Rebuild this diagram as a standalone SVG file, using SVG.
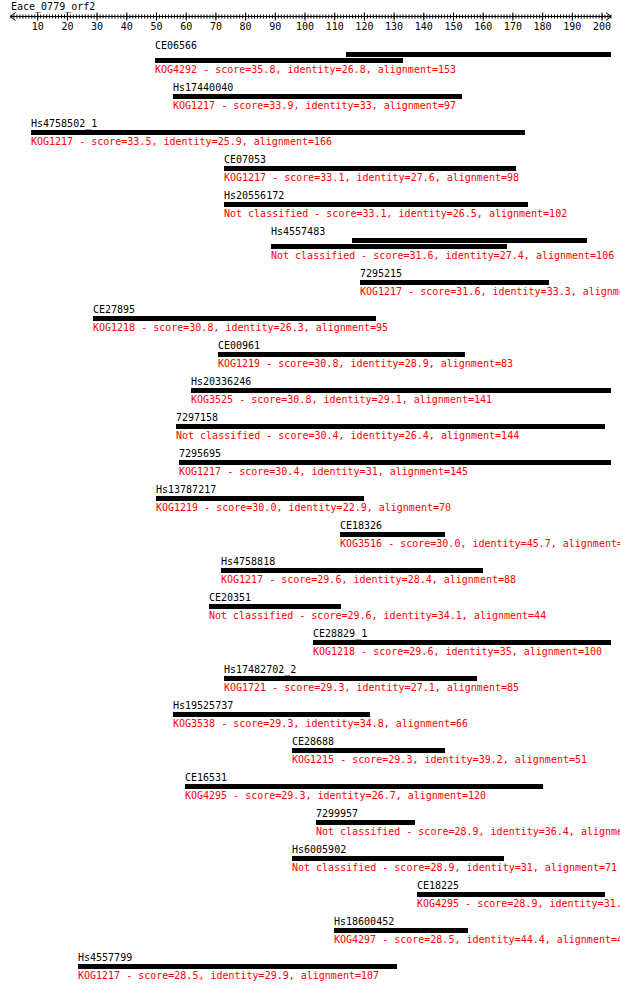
<svg xmlns="http://www.w3.org/2000/svg" width="620" height="989" viewBox="0 0 620 989">
<style>
text{font-family:"DejaVu Sans Mono","Liberation Mono",monospace;font-size:10px;fill:#000}
.r{fill:#ff0000}
.b{fill:#000}
.ax{stroke:#000;fill:none;stroke-width:1}
.tl{text-anchor:middle}
</style>
<rect width="620" height="989" fill="#fff"/>
<g id="axis">
<text x="11" y="10">Eace_0779_orf2</text>
<line class="ax" x1="10.5" y1="16.5" x2="611" y2="16.5"/>
<polyline class="ax" points="15.5,12.5 10.5,16.5 15.5,20.5"/>
<polyline class="ax" points="606,12.5 611,16.5 606,20.5"/>
<line x1="10.5" y1="16.5" x2="611.5" y2="16.5" stroke="#000" stroke-width="4" stroke-dasharray="1 1.97"/>
<line x1="37.2" y1="16.5" x2="603" y2="16.5" stroke="#000" stroke-width="8" stroke-dasharray="1 28.7"/>
<g class="tl">
<text x="37.7" y="30">10</text><text x="67.4" y="30">20</text><text x="97.1" y="30">30</text><text x="126.8" y="30">40</text><text x="156.5" y="30">50</text><text x="186.2" y="30">60</text><text x="215.9" y="30">70</text><text x="245.6" y="30">80</text><text x="275.3" y="30">90</text><text x="305" y="30">100</text><text x="334.7" y="30">110</text><text x="364.4" y="30">120</text><text x="394.1" y="30">130</text><text x="423.8" y="30">140</text><text x="453.5" y="30">150</text><text x="483.2" y="30">160</text><text x="512.9" y="30">170</text><text x="542.6" y="30">180</text><text x="572.3" y="30">190</text><text x="602" y="30">200</text>
</g>
</g>
<g id="connectors"/>
<g id="CE06566" transform="translate(0,58)"><text x="155" y="-9.5">CE06566</text><rect class="b" x="346" y="-6" width="265" height="5"/><rect class="b" x="155" y="0" width="248" height="5"/><text class="r" x="155" y="14.8">KOG4292 - score=35.8, identity=26.8, alignment=153</text></g>
<g id="Hs17440040" transform="translate(0,94)"><text x="173" y="-3.5">Hs17440040</text><rect class="b" x="173" y="0" width="289" height="5"/><text class="r" x="173" y="14.8">KOG1217 - score=33.9, identity=33, alignment=97</text></g>
<g id="Hs4758502_1" transform="translate(0,130)"><text x="31" y="-3.5">Hs4758502_1</text><rect class="b" x="31" y="0" width="494" height="5"/><text class="r" x="31" y="14.8">KOG1217 - score=33.5, identity=25.9, alignment=166</text></g>
<g id="CE07053" transform="translate(0,166)"><text x="224" y="-3.5">CE07053</text><rect class="b" x="224" y="0" width="292" height="5"/><text class="r" x="224" y="14.8">KOG1217 - score=33.1, identity=27.6, alignment=98</text></g>
<g id="Hs20556172" transform="translate(0,202)"><text x="224" y="-3.5">Hs20556172</text><rect class="b" x="224" y="0" width="304" height="5"/><text class="r" x="224" y="14.8">Not classified - score=33.1, identity=26.5, alignment=102</text></g>
<g id="Hs4557483" transform="translate(0,244)"><text x="271" y="-9.5">Hs4557483</text><rect class="b" x="352" y="-6" width="235" height="5"/><rect class="b" x="271" y="0" width="236" height="5"/><text class="r" x="271" y="14.8">Not classified - score=31.6, identity=27.4, alignment=106</text></g>
<g id="n7295215" transform="translate(0,280)"><text x="360" y="-3.5">7295215</text><rect class="b" x="360" y="0" width="189" height="5"/><text class="r" x="360" y="14.8">KOG1217 - score=31.6, identity=33.3, alignme</text></g>
<g id="CE27895" transform="translate(0,316)"><text x="93" y="-3.5">CE27895</text><rect class="b" x="93" y="0" width="283" height="5"/><text class="r" x="93" y="14.8">KOG1218 - score=30.8, identity=26.3, alignment=95</text></g>
<g id="CE00961" transform="translate(0,352)"><text x="218" y="-3.5">CE00961</text><rect class="b" x="218" y="0" width="247" height="5"/><text class="r" x="218" y="14.8">KOG1219 - score=30.8, identity=28.9, alignment=83</text></g>
<g id="Hs20336246" transform="translate(0,388)"><text x="191" y="-3.5">Hs20336246</text><rect class="b" x="191" y="0" width="420" height="5"/><text class="r" x="191" y="14.8">KOG3525 - score=30.8, identity=29.1, alignment=141</text></g>
<g id="n7297158" transform="translate(0,424)"><text x="176" y="-3.5">7297158</text><rect class="b" x="176" y="0" width="429" height="5"/><text class="r" x="176" y="14.8">Not classified - score=30.4, identity=26.4, alignment=144</text></g>
<g id="n7295695" transform="translate(0,460)"><text x="179" y="-3.5">7295695</text><rect class="b" x="179" y="0" width="432" height="5"/><text class="r" x="179" y="14.8">KOG1217 - score=30.4, identity=31, alignment=145</text></g>
<g id="Hs13787217" transform="translate(0,496)"><text x="156" y="-3.5">Hs13787217</text><rect class="b" x="156" y="0" width="208" height="5"/><text class="r" x="156" y="14.8">KOG1219 - score=30.0, identity=22.9, alignment=70</text></g>
<g id="CE18326" transform="translate(0,532)"><text x="340" y="-3.5">CE18326</text><rect class="b" x="340" y="0" width="105" height="5"/><text class="r" x="340" y="14.8">KOG3516 - score=30.0, identity=45.7, alignment=</text></g>
<g id="Hs4758818" transform="translate(0,568)"><text x="221" y="-3.5">Hs4758818</text><rect class="b" x="221" y="0" width="262" height="5"/><text class="r" x="221" y="14.8">KOG1217 - score=29.6, identity=28.4, alignment=88</text></g>
<g id="CE20351" transform="translate(0,604)"><text x="209" y="-3.5">CE20351</text><rect class="b" x="209" y="0" width="132" height="5"/><text class="r" x="209" y="14.8">Not classified - score=29.6, identity=34.1, alignment=44</text></g>
<g id="CE28829_1" transform="translate(0,640)"><text x="313" y="-3.5">CE28829_1</text><rect class="b" x="313" y="0" width="298" height="5"/><text class="r" x="313" y="14.8">KOG1218 - score=29.6, identity=35, alignment=100</text></g>
<g id="Hs17482702_2" transform="translate(0,676)"><text x="224" y="-3.5">Hs17482702_2</text><rect class="b" x="224" y="0" width="253" height="5"/><text class="r" x="224" y="14.8">KOG1721 - score=29.3, identity=27.1, alignment=85</text></g>
<g id="Hs19525737" transform="translate(0,712)"><text x="173" y="-3.5">Hs19525737</text><rect class="b" x="173" y="0" width="197" height="5"/><text class="r" x="173" y="14.8">KOG3538 - score=29.3, identity=34.8, alignment=66</text></g>
<g id="CE28688" transform="translate(0,748)"><text x="292" y="-3.5">CE28688</text><rect class="b" x="292" y="0" width="153" height="5"/><text class="r" x="292" y="14.8">KOG1215 - score=29.3, identity=39.2, alignment=51</text></g>
<g id="CE16531" transform="translate(0,784)"><text x="185" y="-3.5">CE16531</text><rect class="b" x="185" y="0" width="358" height="5"/><text class="r" x="185" y="14.8">KOG4295 - score=29.3, identity=26.7, alignment=120</text></g>
<g id="n7299957" transform="translate(0,820)"><text x="316" y="-3.5">7299957</text><rect class="b" x="316" y="0" width="99" height="5"/><text class="r" x="316" y="14.8">Not classified - score=28.9, identity=36.4, alignme</text></g>
<g id="Hs6005902" transform="translate(0,856)"><text x="292" y="-3.5">Hs6005902</text><rect class="b" x="292" y="0" width="212" height="5"/><text class="r" x="292" y="14.8">Not classified - score=28.9, identity=31, alignment=71</text></g>
<g id="CE18225" transform="translate(0,892)"><text x="417" y="-3.5">CE18225</text><rect class="b" x="417" y="0" width="188" height="5"/><text class="r" x="417" y="14.8">KOG4295 - score=28.9, identity=31.</text></g>
<g id="Hs18600452" transform="translate(0,928)"><text x="334" y="-3.5">Hs18600452</text><rect class="b" x="334" y="0" width="134" height="5"/><text class="r" x="334" y="14.8">KOG4297 - score=28.5, identity=44.4, alignment=4</text></g>
<g id="Hs4557799" transform="translate(0,964)"><text x="78" y="-3.5">Hs4557799</text><rect class="b" x="78" y="0" width="319" height="5"/><text class="r" x="78" y="14.8">KOG1217 - score=28.5, identity=29.9, alignment=107</text></g>
</svg>
